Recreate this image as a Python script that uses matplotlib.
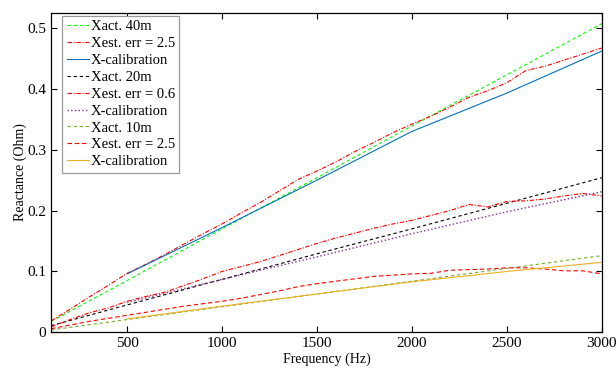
import matplotlib.pyplot as plt

plt.rcParams['font.family'] = ['Liberation Serif', 'DejaVu Serif']

# frequency grids (Hz)
f_coarse = [100, 500, 1000, 1500, 2000, 2500, 3000]
f_cal = [500, 1000, 1500, 2000, 2500, 3000]
f_fine = list(range(100, 3001, 100))

# 40 m cable
x_act_40 = [0.018, 0.085, 0.170, 0.254, 0.339, 0.423, 0.507]
x_est_40 = [0.019, 0.038, 0.058, 0.077, 0.097, 0.112, 0.128, 0.145, 0.162, 0.178,
            0.196, 0.213, 0.232, 0.251, 0.265, 0.280, 0.297, 0.312, 0.328, 0.342,
            0.355, 0.370, 0.386, 0.397, 0.410, 0.430, 0.437, 0.447, 0.457, 0.467]
x_cal_40 = [0.096, 0.172, 0.250, 0.330, 0.393, 0.462]

# 20 m cable
x_act_20 = [0.011, 0.045, 0.087, 0.129, 0.170, 0.212, 0.254]
x_est_20 = [0.009, 0.021, 0.032, 0.040, 0.051, 0.059, 0.066, 0.077, 0.088, 0.100,
            0.108, 0.116, 0.126, 0.136, 0.146, 0.155, 0.163, 0.171, 0.178, 0.184,
            0.192, 0.200, 0.210, 0.206, 0.215, 0.216, 0.219, 0.224, 0.228, 0.224]
x_cal_20 = [0.049, 0.087, 0.124, 0.162, 0.198, 0.231]

# 10 m cable
x_act_10 = [0.004, 0.021, 0.042, 0.063, 0.084, 0.105, 0.126]
x_est_10 = [0.006, 0.012, 0.018, 0.023, 0.028, 0.033, 0.038, 0.043, 0.047, 0.051,
            0.056, 0.062, 0.068, 0.075, 0.080, 0.084, 0.088, 0.092, 0.094, 0.096,
            0.097, 0.102, 0.103, 0.104, 0.106, 0.106, 0.104, 0.101, 0.101, 0.096]
x_cal_10 = [0.022, 0.043, 0.063, 0.083, 0.100, 0.115]

fig = plt.figure(figsize=(6.16, 3.73), dpi=100)
ax = fig.add_axes([0.083, 0.109, 0.894, 0.857])

lw = 0.8
ax.plot(f_coarse, x_act_40, '--', color='#00ff00', lw=lw, dashes=(3, 2.5), label='Xact. 40m')
ax.plot(f_fine, x_est_40, '-.', color='#ff0000', lw=lw, dashes=(4, 1.5, 1, 1.5), label='Xest. err = 2.5')
ax.plot(f_cal, x_cal_40, '-', color='#0072bd', lw=lw, label='X-calibration')
ax.plot(f_coarse, x_act_20, '--', color='black', lw=lw, dashes=(3, 2.5), label='Xact. 20m')
ax.plot(f_fine, x_est_20, '-.', color='#ff0000', lw=lw, dashes=(4, 1.5, 1, 1.5), label='Xest. err = 0.6')
ax.plot(f_cal, x_cal_20, ':', color='#7e2f8e', lw=1.0, label='X-calibration')
ax.plot(f_coarse, x_act_10, '--', color='#77ac30', lw=lw, dashes=(3, 2.5), label='Xact. 10m')
ax.plot(f_fine, x_est_10, '--', color='#ff0000', lw=lw, dashes=(4, 2.5), label='Xest. err = 2.5')
ax.plot(f_cal, x_cal_10, '-', color='#edb120', lw=lw, label='X-calibration')

ax.set_xlim(100, 3000)
ax.set_ylim(0, 0.525)
ax.set_xticks([500, 1000, 1500, 2000, 2500, 3000])
ax.set_yticks([0, 0.1, 0.2, 0.3, 0.4, 0.5])
ax.set_yticklabels(['0', '0.1', '0.2', '0.3', '0.4', '0.5'])
ax.tick_params(direction='in', top=True, right=True, length=4, width=0.8, labelsize=11)
for s in ax.spines.values():
    s.set_linewidth(0.9)

ax.set_xlabel('Frequency (Hz)', fontsize=10, labelpad=2)
ax.set_ylabel('Reactance (Ohm)', fontsize=10, labelpad=0)

leg = ax.legend(loc='upper left', bbox_to_anchor=(0.02, 0.99), fontsize=10.5,
                labelspacing=0.25, handlelength=1.55, handletextpad=0.1,
                borderpad=0.3, borderaxespad=0, fancybox=False, framealpha=1)
leg.get_frame().set_edgecolor('#9a9a9a')
leg.get_frame().set_linewidth(0.9)

fig.savefig('out.png', dpi=100)
